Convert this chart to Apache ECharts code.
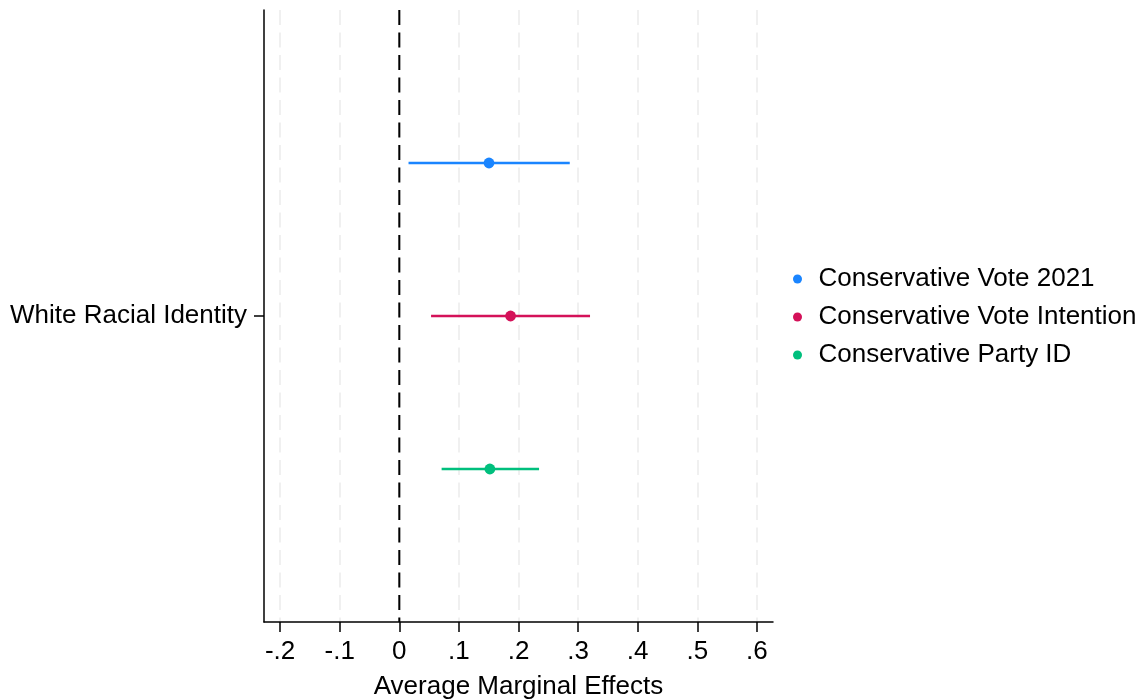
<!DOCTYPE html>
<html>
<head>
<meta charset="utf-8">
<script src="https://cdn.jsdelivr.net/npm/echarts@6/dist/echarts.min.js"></script>
<style>html,body{margin:0;padding:0;background:#fff}#c{width:1140px;height:700px}</style>
</head>
<body>
<div id="c"></div>
<script>
// ---- data ----
const categories = ['White Racial Identity'];
const seriesNames = ['Conservative Vote 2021', 'Conservative Vote Intention', 'Conservative Party ID'];
const estimates = [0.1505, 0.1867, 0.152];
const ciLow = [0.0155, 0.0533, 0.071];
const ciHigh = [0.286, 0.320, 0.2345];
const tickValues = [-0.2, -0.1, 0, 0.1, 0.2, 0.3, 0.4, 0.5, 0.6];
const tickLabels = ['-.2', '-.1', '0', '.1', '.2', '.3', '.4', '.5', '.6'];
const xMin = -0.227, xMax = 0.627;
const refLineValue = 0;
const colors = ['#1A85FF', '#D41159', '#00BF7D'];

const FONT = 'Liberation Sans, Arial, Helvetica, sans-serif';
const FS = 26;
const chart = echarts.init(document.getElementById('c'), null, {renderer: 'canvas'});

const series = seriesNames.map((name, i) => ({
  name: name,
  type: 'custom',
  color: colors[i],
  itemStyle: {color: colors[i]},
  encode: {x: [0, 1, 2], y: 3},
  data: [[ciLow[i], estimates[i], ciHigh[i], 0]],
  renderItem: function (params, api) {
    const band = api.size([0, 1])[1];
    const off = (i - 1) * band / 4;
    const cat = api.value(3);
    const pL = api.coord([api.value(0), cat]);
    const pE = api.coord([api.value(1), cat]);
    const pH = api.coord([api.value(2), cat]);
    return {
      type: 'group',
      children: [
        {type: 'line', shape: {x1: pL[0], y1: pL[1] + off, x2: pH[0], y2: pH[1] + off},
         style: {stroke: colors[i], lineWidth: 2.5}},
        {type: 'circle', shape: {cx: pE[0], cy: pE[1] + off, r: 5.4},
         style: {fill: colors[i]}}
      ]
    };
  }
}));

// reference line at x = 0
series.unshift({
  name: 'ref',
  type: 'custom',
  silent: true,
  encode: {x: 0, y: 1},
  data: [[refLineValue, 0]],
  z: 1,
  renderItem: function (params, api) {
    const cs = params.coordSys;
    const p = api.coord([api.value(0), api.value(1)]);
    return {
      type: 'line',
      shape: {x1: p[0], y1: cs.y, x2: p[0], y2: cs.y + cs.height},
      style: {stroke: '#000', lineWidth: 2, lineDash: [15, 7.5]}
    };
  }
});

chart.setOption({
  animation: false,
  backgroundColor: '#fff',
  textStyle: {fontFamily: FONT},
  grid: {left: 264, right: 367, top: 10, bottom: 78, containLabel: false, outerBoundsMode: 'none'},
  legend: {
    orient: 'vertical', left: 788, top: 259,
    icon: 'circle', itemWidth: 32, itemHeight: 9, itemGap: 8,
    textStyle: {fontFamily: FONT, fontSize: FS, color: '#000', lineHeight: 30},
    data: seriesNames
  },
  xAxis: {
    type: 'value', min: xMin, max: xMax,
    name: 'Average Marginal Effects', nameLocation: 'middle', nameGap: 52,
    nameTextStyle: {fontFamily: FONT, fontSize: FS, color: '#000'},
    axisLine: {show: true, onZero: false, lineStyle: {color: '#000', width: 1.5}},
    axisTick: {show: true, length: 10, lineStyle: {color: '#000', width: 1.5}, customValues: tickValues},
    axisLabel: {fontFamily: FONT, fontSize: FS, color: '#000', margin: 17, customValues: tickValues,
      formatter: function (v) { const k = tickValues.findIndex(t => Math.abs(t - v) < 1e-9); return k >= 0 ? tickLabels[k] : ''; }},
    splitLine: {show: true, lineStyle: {color: '#ebebeb', width: 1.5, type: [15, 7.5]}}
  },
  yAxis: {
    type: 'category', data: categories,
    axisLine: {show: true, onZero: false, lineStyle: {color: '#000', width: 1.5}},
    axisTick: {show: true, length: 10, alignWithLabel: true, lineStyle: {color: '#000', width: 1.5}},
    axisLabel: {fontFamily: FONT, fontSize: FS, color: '#000', margin: 17},
    splitLine: {show: false}
  },
  series: series
});
</script>
</body>
</html>
